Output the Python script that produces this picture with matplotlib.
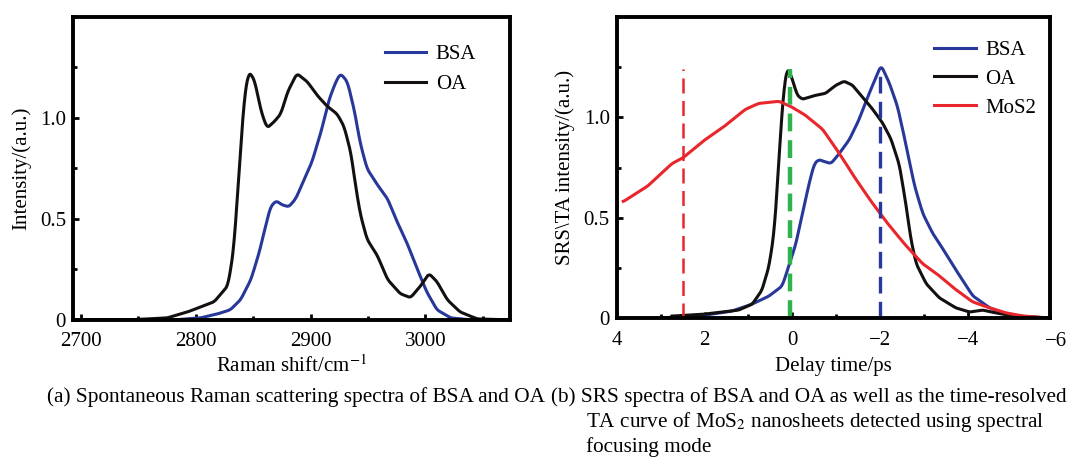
import numpy as np
import matplotlib.pyplot as plt
from matplotlib.ticker import MultipleLocator

plt.rcParams['font.family'] = ['Liberation Serif', 'DejaVu Serif']
plt.rcParams['mathtext.fontset'] = 'stix'

# (a) spontaneous Raman spectra
raman_oa_x = [2693, 2740, 2775, 2793, 2816, 2828, 2833, 2838, 2842, 2846, 2851, 2857, 2862,
              2868, 2874, 2880, 2888, 2897, 2906, 2914, 2923, 2929, 2935, 2939, 2943, 2949,
              2958, 2967, 2978, 2987, 2996, 3003, 3010, 3019, 3030, 3045, 3075]
raman_oa_y = [0.0, 0.0, 0.01, 0.04, 0.09, 0.17, 0.35, 0.76, 1.09, 1.23, 1.19, 1.03, 0.95,
              0.98, 1.02, 1.13, 1.22, 1.18, 1.11, 1.06, 1.02, 0.96, 0.83, 0.67, 0.53, 0.40,
              0.32, 0.20, 0.13, 0.11, 0.17, 0.23, 0.19, 0.10, 0.04, 0.005, 0.0]
raman_bsa_x = [2693, 2780, 2804, 2819, 2830, 2839, 2848, 2855, 2861, 2865, 2870, 2875, 2881,
               2887, 2894, 2901, 2909, 2916, 2922, 2926, 2932, 2938, 2943, 2949, 2958, 2967,
               2975, 2984, 2993, 3001, 3010, 3022, 3040, 3075]
raman_bsa_y = [0.0, 0.0, 0.01, 0.03, 0.05, 0.10, 0.20, 0.33, 0.47, 0.56, 0.59, 0.57, 0.56,
               0.60, 0.69, 0.78, 0.93, 1.09, 1.18, 1.22, 1.18, 1.04, 0.88, 0.75, 0.67, 0.60,
               0.49, 0.38, 0.25, 0.14, 0.05, 0.01, 0.0, 0.0]

# (b) SRS spectra and TA curve
delay_mos2_x = [3.85, 3.28, 2.74, 2.48, 1.98, 1.52, 1.07, 0.76, 0.30, 0.0, -0.30, -0.69,
                -1.07, -1.45, -1.83, -2.21, -2.59, -2.97, -3.35, -3.73, -4.11, -4.50,
                -4.88, -5.26, -5.87]
delay_mos2_y = [0.58, 0.66, 0.77, 0.80, 0.89, 0.96, 1.04, 1.07, 1.08, 1.05, 1.01, 0.94,
                0.82, 0.69, 0.57, 0.46, 0.36, 0.27, 0.21, 0.14, 0.08, 0.05, 0.025, 0.01, 0.0]
delay_oa_x = [2.74, 1.98, 1.22, 0.91, 0.69, 0.53, 0.42, 0.34, 0.27, 0.19, 0.11, 0.0, -0.11,
              -0.23, -0.38, -0.53, -0.76, -0.99, -1.18, -1.37, -1.60, -1.83, -2.06, -2.25,
              -2.44, -2.59, -2.70, -2.82, -3.05, -3.35, -3.73, -4.04, -4.34, -4.65, -5.03, -5.87]
delay_oa_y = [0.01, 0.02, 0.04, 0.07, 0.14, 0.26, 0.42, 0.66, 0.92, 1.15, 1.25, 1.19, 1.11,
              1.09, 1.10, 1.11, 1.12, 1.16, 1.18, 1.16, 1.10, 1.04, 0.97, 0.89, 0.76, 0.56,
              0.39, 0.27, 0.17, 0.10, 0.05, 0.03, 0.04, 0.025, 0.01, 0.0]
delay_bsa_x = [3.89, 3.5, 2.74, 1.98, 1.37, 0.91, 0.53, 0.23, 0.08, -0.08, -0.23, -0.38,
               -0.50, -0.61, -0.72, -0.88, -1.07, -1.30, -1.52, -1.75, -2.02, -2.21, -2.40,
               -2.59, -2.78, -2.97, -3.20, -3.50, -3.81, -4.11, -4.50, -4.88, -5.26, -5.87]
delay_bsa_y = [-0.015, -0.01, 0.005, 0.015, 0.035, 0.07, 0.11, 0.16, 0.26, 0.37, 0.52, 0.67,
               0.77, 0.79, 0.78, 0.77, 0.82, 0.89, 0.99, 1.12, 1.26, 1.17, 1.05, 0.86, 0.66,
               0.52, 0.42, 0.32, 0.21, 0.11, 0.05, 0.02, 0.008, 0.0]
dash_x = [2.5, 0.05, -2.0]
dash_top = 1.24

blue = '#28389a'
black = '#141010'
red = '#e8262c'
green = '#2fb34c'

fig = plt.figure(figsize=(10.8, 4.59), dpi=100)
ax1 = fig.add_axes([0.0676, 0.303, 0.405, 0.660])
ax2 = fig.add_axes([0.571, 0.307, 0.401, 0.656])


def smooth(x, y):
    # light moving average over a dense linear resampling, just to round the corners
    x = np.asarray(x, float)
    y = np.asarray(y, float)
    order = np.argsort(x)
    x, y = x[order], y[order]
    xs = np.linspace(x[0], x[-1], 1000)
    ys = np.interp(xs, x, y)
    k = 5
    ys = np.convolve(np.pad(ys, k, mode='edge'), np.ones(2 * k + 1) / (2 * k + 1), mode='same')[k:-k]
    return xs, ys


for ax in (ax1, ax2):
    for s in ax.spines.values():
        s.set_linewidth(2.8)
    ax.tick_params(direction='in', length=4, width=2, labelsize=15)
    ax.tick_params(axis='x', pad=9)
    ax.tick_params(axis='y', pad=5)
    ax.tick_params(which='minor', direction='in', length=3, width=2)
    ax.set_ylim(0, 1.5)
    ax.set_yticks([0, 0.5, 1.0])
    ax.set_yticklabels(['0', '0.5', '1.0'])
    ax.yaxis.set_minor_locator(MultipleLocator(0.25))

ax1.plot(*smooth(raman_bsa_x, raman_bsa_y), color=blue, lw=2.2, label='BSA')
ax1.plot(*smooth(raman_oa_x, raman_oa_y), color=black, lw=2.2, label='OA')
ax1.set_xlim(2693, 3074)
ax1.set_xticks([2700, 2800, 2900, 3000])
ax1.xaxis.set_minor_locator(MultipleLocator(50))
ax1.set_xlabel('Raman shift/cm$^{-1}$', fontsize=15, labelpad=3)
ax1.set_ylabel('Intensity/(a.u.)', fontsize=15, labelpad=6)
ax1.legend(loc='upper left', bbox_to_anchor=(0.67, 0.97), frameon=False, fontsize=15,
           handlelength=2.0, handletextpad=0.45, labelspacing=0.5)

ax2.plot(*smooth(delay_bsa_x, delay_bsa_y), color=blue, lw=2.2, label='BSA')
ax2.plot(*smooth(delay_oa_x, delay_oa_y), color=black, lw=2.2, label='OA')
ax2.plot(*smooth(delay_mos2_x, delay_mos2_y), color=red, lw=2.2, label='MoS2')
ax2.vlines(dash_x[0], 0, dash_top, colors=red, lw=1.8, linestyles=(0, (6, 3)))
ax2.vlines(dash_x[1], 0, dash_top, colors=green, lw=3.2, linestyles=(0, (4, 2)))
ax2.vlines(dash_x[2], 0, dash_top, colors=blue, lw=2.4, linestyles=(0, (5, 2.5)))
ax2.set_xlim(4.0, -5.86)
ax2.set_xticks([4, 2, 0, -2, -4])
ax2.set_xticklabels(['4', '2', '0', '\u22122', '\u22124'])
ax2.text(-6, -0.045, '\u22126', transform=ax2.get_xaxis_transform(), ha='center', va='top',
         fontsize=15)
ax2.xaxis.set_minor_locator(MultipleLocator(1))
ax2.set_xlabel('Delay time/ps', fontsize=15, labelpad=5)
ax2.set_ylabel('SRS\\TA intensity/(a.u.)', fontsize=15, labelpad=6)
ax2.legend(loc='upper left', bbox_to_anchor=(0.69, 0.985), frameon=False, fontsize=15,
           handlelength=2.0, handletextpad=0.45, labelspacing=0.45)

cap = dict(fontsize=15.3, va='baseline')
fig.text(0.0435, 0.124, '(a) Spontaneous Raman scattering spectra of BSA and OA', **cap)
fig.text(0.510, 0.124, '(b) SRS spectra of BSA and OA as well as the time-resolved', **cap)
fig.text(0.543, 0.070, 'TA curve of MoS$_2$ nanosheets detected using spectral', **cap)
fig.text(0.543, 0.016, 'focusing mode', **cap)

fig.savefig('out.png', dpi=100)
